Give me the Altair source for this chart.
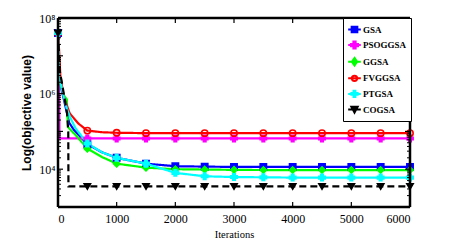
import altair as alt
import pandas as pd

series_names = ["GSA", "PSOGGSA", "GGSA", "FVGGSA", "PTGSA", "COGSA"]
series_colors = ["#0000ff", "#ff00ff", "#00ff00", "#ff0000", "#00ffff", "#000000"]
series_fill = ["#0000ff", "#ff00ff", "#00ff00", "transparent", "#00ffff", "#000000"]
series_shapes = ["square", "cross", "diamond", "circle", "cross", "triangle-down"]
legend_shapes = [
    "M-1,0H1M-0.45,-0.45H0.45V0.45H-0.45Z",
    "M-1,0H1M-0.55,-0.18H-0.18V-0.55H0.18V-0.18H0.55V0.18H0.18V0.55H-0.18V0.18H-0.55Z",
    "M-1,0H1M0,-0.6L0.42,0L0,0.6L-0.42,0Z",
    "M-1,0H1M0.42,0A0.42,0.42,0,1,1,-0.42,0A0.42,0.42,0,1,1,0.42,0Z",
    "M-1,0H1M-0.5,-0.15H-0.15V-0.5H0.15V-0.15H0.5V0.15H0.15V0.5H-0.15V0.15H-0.5Z",
    "M-1,0H1M-0.5,-0.42H0.5L0,0.5Z",
]

gsa_it = [0, 20, 50, 100, 190, 270, 500, 750, 1000, 1500, 2000, 2500, 3000, 3500, 4000, 4500, 5000, 5500, 6000]
gsa_val = [4e7, 2.8e6, 1.5e6, 7e5, 1.7e5, 1.1e5, 4.6e4, 2.8e4, 2.0e4, 1.4e4, 1.2e4, 1.17e4, 1.15e4, 1.15e4, 1.15e4, 1.15e4, 1.15e4, 1.15e4, 1.15e4]

pso_it = [0, 15, 25, 500, 1000, 1500, 2000, 2500, 3000, 3500, 4000, 4500, 5000, 5500, 6000]
pso_val = [4e7, 1e7, 6.5e4, 6.5e4, 6.5e4, 6.5e4, 6.5e4, 6.5e4, 6.5e4, 6.5e4, 6.5e4, 6.5e4, 6.5e4, 6.5e4, 6.5e4]

ggsa_it = [0, 20, 50, 100, 150, 170, 300, 500, 750, 1000, 1500, 2000, 2500, 3000, 3500, 4000, 4500, 5000, 5500, 6000]
ggsa_val = [4e7, 2.6e6, 1.6e6, 9e5, 7e5, 1.3e5, 8e4, 3.5e4, 2.1e4, 1.4e4, 1.1e4, 1.0e4, 9.8e3, 9.6e3, 9.5e3, 9.5e3, 9.5e3, 9.5e3, 9.5e3, 9.5e3]

fvg_it = [0, 20, 40, 100, 200, 350, 500, 750, 1000, 1500, 2000, 2500, 3000, 3500, 4000, 4500, 5000, 5500, 6000]
fvg_val = [4e7, 1.3e7, 3e6, 8e5, 3e5, 1.6e5, 1.05e5, 9.5e4, 9.2e4, 9e4, 9e4, 9e4, 9e4, 9e4, 9e4, 9e4, 9e4, 9e4, 9e4]

pt_it = [0, 20, 50, 100, 150, 200, 300, 500, 750, 1000, 1500, 2000, 2500, 3000, 3500, 4000, 4500, 5000, 5500, 6000]
pt_val = [4e7, 2.6e6, 1.8e6, 8e5, 4e5, 2.5e5, 1.2e5, 4.8e4, 2.8e4, 2.0e4, 1.4e4, 8e3, 6.5e3, 6.2e3, 6.1e3, 6e3, 6e3, 6e3, 6e3, 6e3]

co_it = [0, 30, 70, 155, 175, 178, 500, 1000, 1500, 2000, 2500, 3000, 3500, 4000, 4500, 5000, 5500, 6000]
co_val = [4e7, 4e6, 1.8e6, 3e5, 1e5, 3.5e3, 3.5e3, 3.5e3, 3.5e3, 3.5e3, 3.5e3, 3.5e3, 3.5e3, 3.5e3, 3.5e3, 3.5e3, 3.5e3, 3.5e3]

x_ticks = [0, 1000, 2000, 3000, 4000, 5000, 6000]
y_major = [1e3, 1e4, 1e5, 1e6, 1e7, 1e8]
y_labels = [1e4, 1e6, 1e8]
y_minor = [m * 10 ** k for k in range(3, 8) for m in range(2, 10)]

rows = []
for name, its, vals in [("GSA", gsa_it, gsa_val), ("PSOGGSA", pso_it, pso_val),
                        ("GGSA", ggsa_it, ggsa_val), ("FVGGSA", fvg_it, fvg_val),
                        ("PTGSA", pt_it, pt_val), ("COGSA", co_it, co_val)]:
    for i, v in zip(its, vals):
        rows.append({"series": name, "iter": i, "value": v})
df = pd.DataFrame(rows)

W, H = 352, 189
FONT = "Liberation Sans Narrow"

xs = alt.Scale(domain=[0, 6000], nice=False)
ys = alt.Scale(type="log", domain=[1e3, 1e8], nice=False)

base = alt.Chart(df)

lines = base.mark_line(strokeWidth=2.2, clip=True).encode(
    x=alt.X("iter:Q", scale=xs, axis=alt.Axis(values=x_ticks, format="d", ticks=False, domain=False, grid=False,
                                               labelFont=FONT, labelFontSize=12, labelColor="black",
                                               labelPadding=6, title="Iterations", titleFont=FONT,
                                               titleFontSize=10.5, titleFontWeight="normal", titlePadding=5,
                                               titleColor="black")),
    y=alt.Y("value:Q", scale=ys, axis=alt.Axis(values=y_labels, ticks=False, domain=False, grid=False,
                                                labelFont=FONT, labelFontSize=12, labelColor="black",
                                                labelPadding=3,
                                                labelExpr="datum.value == 1e4 ? '10⁴' : datum.value == 1e6 ? '10⁶' : '10⁸'",
                                                title="Log(objective value)", titleFont="Liberation Sans",
                                                titleFontSize=12, titleFontWeight="bold", titlePadding=5,
                                                titleColor="black")),
    stroke=alt.Stroke("series:N", scale=alt.Scale(domain=series_names, range=series_colors), legend=None),
    strokeDash=alt.StrokeDash("series:N", scale=alt.Scale(domain=series_names,
                              range=[[1, 0], [1, 0], [1, 0], [1, 0], [1, 0], [7, 4]]), legend=None),
    order="iter:Q",
)

points = base.mark_point(size=40, strokeWidth=1.6, opacity=1).transform_filter(
    "datum.iter % 500 == 0"
).encode(
    x=alt.X("iter:Q", scale=xs),
    y=alt.Y("value:Q", scale=ys),
    stroke=alt.Stroke("series:N", scale=alt.Scale(domain=series_names, range=series_colors), legend=None),
    fill=alt.Fill("series:N", scale=alt.Scale(domain=series_names, range=series_fill), legend=None),
    shape=alt.Shape("series:N", scale=alt.Scale(domain=series_names, range=series_shapes), legend=None),
)

legend = alt.Legend(orient="none", legendX=285, legendY=0, title=None,
                    labelFont=FONT, labelFontSize=9, labelFontWeight="bold", labelColor="black",
                    strokeColor="black", fillColor="white", padding=4, rowPadding=0.6,
                    symbolSize=160, symbolStrokeWidth=2, labelOffset=1)

leg_df = pd.DataFrame({"name": series_names})
leg_layer = alt.Chart(leg_df).mark_point(clip=True, opacity=1, size=160, strokeWidth=2).encode(
    x=alt.value(-200), y=alt.value(-200),
    stroke=alt.Stroke("name:N", scale=alt.Scale(domain=series_names, range=series_colors), legend=legend),
    fill=alt.Fill("name:N", scale=alt.Scale(domain=series_names, range=series_fill), legend=legend),
    shape=alt.Shape("name:N", scale=alt.Scale(domain=series_names, range=legend_shapes), legend=legend),
)

xt = pd.DataFrame({"x": x_ticks})
ymaj = pd.DataFrame({"y": y_major})
ymin = pd.DataFrame({"y": y_minor})

tick_bottom = alt.Chart(xt).mark_rule(color="black", strokeWidth=1.2).encode(
    x=alt.X("x:Q", scale=xs), y=alt.value(H), y2=alt.value(H - 5))
tick_top = alt.Chart(xt).mark_rule(color="black", strokeWidth=1.2).encode(
    x=alt.X("x:Q", scale=xs), y=alt.value(0), y2=alt.value(5))
ytl = alt.Chart(ymaj).mark_rule(color="black", strokeWidth=1.2).encode(
    y=alt.Y("y:Q", scale=ys), x=alt.value(0), x2=alt.value(5))
ytr = alt.Chart(ymaj).mark_rule(color="black", strokeWidth=1.2).encode(
    y=alt.Y("y:Q", scale=ys), x=alt.value(W - 5), x2=alt.value(W))
ymtl = alt.Chart(ymin).mark_rule(color="black", strokeWidth=1).encode(
    y=alt.Y("y:Q", scale=ys), x=alt.value(0), x2=alt.value(3))
ymtr = alt.Chart(ymin).mark_rule(color="black", strokeWidth=1).encode(
    y=alt.Y("y:Q", scale=ys), x=alt.value(W - 3), x2=alt.value(W))

frame_df = pd.DataFrame({"k": [0]})
fr = alt.Chart(frame_df)
f_top = fr.mark_rule(color="black", strokeWidth=2.5).encode(x=alt.value(0), x2=alt.value(W), y=alt.value(0))
f_bot = fr.mark_rule(color="black", strokeWidth=2.5).encode(x=alt.value(0), x2=alt.value(W), y=alt.value(H))
f_left = fr.mark_rule(color="black", strokeWidth=2.5).encode(x=alt.value(0), y=alt.value(0), y2=alt.value(H))
f_right = fr.mark_rule(color="black", strokeWidth=2.5).encode(x=alt.value(W), y=alt.value(0), y2=alt.value(H))

chart = alt.layer(lines, points, tick_bottom, tick_top, ytl, ytr, ymtl, ymtr,
                  f_top, f_bot, f_left, f_right, leg_layer).resolve_scale(
    stroke="independent", fill="independent", shape="independent", strokeDash="independent"
).properties(
    width=W, height=H,
    autosize=alt.AutoSizeParams(type="none"),
    padding={"left": 50, "top": 10, "right": 452 - 16 - 50 - W, "bottom": 40},
).configure_view(stroke=None).configure(background="white")

chart.save("out.html", embed_options={"renderer": "svg", "actions": False})
